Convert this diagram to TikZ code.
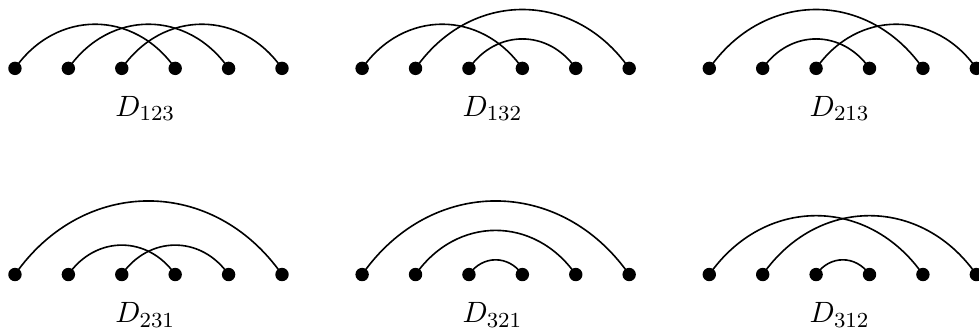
\documentclass[tikz,border=0pt,11pt]{standalone}
\usepackage{tikz}
\usetikzlibrary{positioning}
\tikzset{
  % Black vertex of a chord diagram
  pt/.style={circle, fill=black, draw=none, inner sep=0pt, minimum size=5pt},
  % Chord between two vertices
  chord/.style={semithick, bend left=55, looseness=1.15},
  dlabel/.style={anchor=base, inner sep=0pt}
}
% Six vertices in a row: name prefix, x of first vertex, y
\newcommand{\vrow}[3]{%
  \foreach \i in {1,...,6} \node[pt] (#1-\i) at ({#2+\i-1},#3) {};}

\begin{document}
\begin{tikzpicture}[x=0.7cm, y=0.7cm]
  \useasboundingbox (-0.28,1.28) rectangle (18.05,-5.01);

  %% -- Top row ---------------------------------------------------------------
  \vrow{s123}{0}{0}
  \draw[chord] (s123-1.center) to (s123-4.center);
  \draw[chord] (s123-2.center) to (s123-5.center);
  \draw[chord] (s123-3.center) to (s123-6.center);
  \node[dlabel] (l123) at (2.44,-0.9) {$D_{123}$};

  \vrow{s132}{6.5}{0}
  \draw[chord] (s132-1.center) to (s132-4.center);
  \draw[chord] (s132-2.center) to (s132-6.center);
  \draw[chord] (s132-3.center) to (s132-5.center);
  \node[dlabel] (l132) at (8.94,-0.9) {$D_{132}$};

  \vrow{s213}{13}{0}
  \draw[chord] (s213-1.center) to (s213-5.center);
  \draw[chord] (s213-2.center) to (s213-4.center);
  \draw[chord] (s213-3.center) to (s213-6.center);
  \node[dlabel] (l213) at (15.44,-0.9) {$D_{213}$};

  %% -- Bottom row ------------------------------------------------------------
  \vrow{s231}{0}{-3.86}
  \draw[chord] (s231-1.center) to (s231-6.center);
  \draw[chord] (s231-2.center) to (s231-4.center);
  \draw[chord] (s231-3.center) to (s231-5.center);
  \node[dlabel] (l231) at (2.44,-4.76) {$D_{231}$};

  \vrow{s321}{6.5}{-3.86}
  \draw[chord] (s321-1.center) to (s321-6.center);
  \draw[chord] (s321-2.center) to (s321-5.center);
  \draw[chord] (s321-3.center) to (s321-4.center);
  \node[dlabel] (l321) at (8.94,-4.76) {$D_{321}$};

  \vrow{s312}{13}{-3.86}
  \draw[chord] (s312-1.center) to (s312-5.center);
  \draw[chord] (s312-2.center) to (s312-6.center);
  \draw[chord] (s312-3.center) to (s312-4.center);
  \node[dlabel] (l312) at (15.44,-4.76) {$D_{312}$};

\end{tikzpicture}
\end{document}
